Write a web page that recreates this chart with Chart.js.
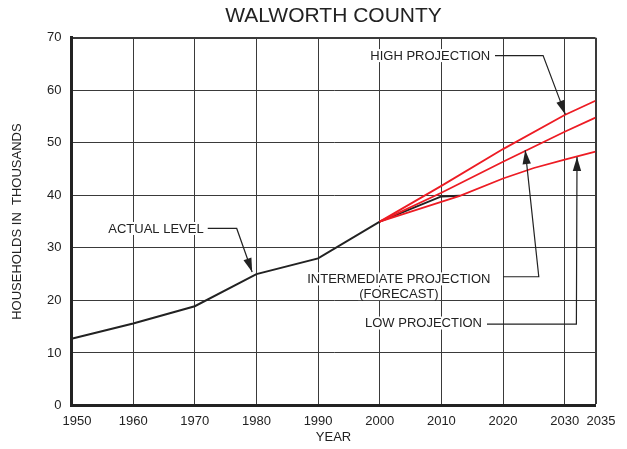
<!DOCTYPE html>
<html><head><meta charset="utf-8">
<script src="https://cdn.jsdelivr.net/npm/chart.js@4.4.1/dist/chart.umd.min.js"></script>
<style>html,body{margin:0;padding:0;background:#fff;}#wrap{width:627px;height:449px;}</style>
</head><body><div id="wrap"><canvas id="c" width="627" height="449"></canvas></div>
<script>
const chartTitle = 'WALWORTH COUNTY';
const xAxisTitle = 'YEAR';
const yAxisTitle = 'HOUSEHOLDS IN  THOUSANDS';
const xTicks = [1950, 1960, 1970, 1980, 1990, 2000, 2010, 2020, 2030, 2035];
const yTicks = [0, 10, 20, 30, 40, 50, 60, 70];

const actualYears  = [1950, 1960, 1970, 1980, 1990, 2000, 2010, 2013];
const actualValues = [12.7, 15.6, 18.9, 25.0, 28.0, 35.0, 39.8, 39.9];

const highYears  = [2000, 2010, 2020, 2030, 2035];
const highValues = [35.0, 41.8, 48.8, 55.3, 58.0];

const interYears  = [2000, 2010, 2020, 2030, 2035];
const interValues = [35.0, 40.5, 46.4, 52.1, 54.8];

const lowYears  = [2000, 2013, 2020, 2025, 2030, 2035];
const lowValues = [35.0, 39.9, 43.2, 45.2, 46.8, 48.3];

// annotation callouts, anchored in data units
const callouts = [
  { lines: [['HIGH PROJECTION', 2008.2, 66.5]],
    leader: [[2018.7, 66.6], [2026.5, 66.6], [2030.1, 55.4]] },
  { lines: [['ACTUAL LEVEL', 1963.7, 33.6]],
    leader: [[1972.1, 33.7], [1976.8, 33.7], [1979.3, 25.4]] },
  { lines: [['INTERMEDIATE PROJECTION', 2003.1, 24.0], ['(FORECAST)', 2003.1, 21.2]],
    leader: [[2020.0, 24.5], [2025.8, 24.5], [2023.6, 48.6]] },
  { lines: [['LOW PROJECTION', 2007.1, 15.6]],
    leader: [[2017.4, 15.5], [2031.9, 15.5], [2032.0, 47.3]] }
];

const pts = (xs, ys) => xs.map((x, i) => ({ x: x, y: ys[i] }));
const FONT = '"Liberation Sans", Arial, Helvetica, sans-serif';
const INK = '#222222';
const RED = '#ed1c24';

const calloutPlugin = {
  id: 'callouts',
  beforeDatasetsDraw(chart) {
    const ctx = chart.ctx, xs = chart.scales.x, ys = chart.scales.y;
    ctx.save();
    ctx.font = '13px ' + FONT;
    ctx.fillStyle = '#ffffff';
    callouts.forEach(c => c.lines.forEach(([t, x, y]) => {
      const w = ctx.measureText(t).width;
      const px = xs.getPixelForValue(x), py = ys.getPixelForValue(y);
      ctx.fillRect(px - w / 2 - 1, py - 7, w + 2, 13);
    }));
    ctx.restore();
  },
  afterDatasetsDraw(chart) {
    const ctx = chart.ctx, xs = chart.scales.x, ys = chart.scales.y;
    ctx.save();
    ctx.font = '13px ' + FONT;
    ctx.fillStyle = INK;
    ctx.strokeStyle = INK;
    ctx.textAlign = 'center';
    ctx.textBaseline = 'middle';
    callouts.forEach(c => {
      c.lines.forEach(([t, x, y]) => {
        ctx.fillText(t, xs.getPixelForValue(x), ys.getPixelForValue(y));
      });
      const p = c.leader.map(([x, y]) => [xs.getPixelForValue(x), ys.getPixelForValue(y)]);
      ctx.lineWidth = 1.2;
      ctx.beginPath();
      ctx.moveTo(p[0][0], p[0][1]);
      for (let i = 1; i < p.length; i++) ctx.lineTo(p[i][0], p[i][1]);
      ctx.stroke();
      const a = p[p.length - 2], b = p[p.length - 1];
      const ang = Math.atan2(b[1] - a[1], b[0] - a[0]);
      const L = 14, W = 4.2;
      ctx.beginPath();
      ctx.moveTo(b[0], b[1]);
      ctx.lineTo(b[0] - L * Math.cos(ang) + W * Math.sin(ang), b[1] - L * Math.sin(ang) - W * Math.cos(ang));
      ctx.lineTo(b[0] - L * Math.cos(ang) - W * Math.sin(ang), b[1] - L * Math.sin(ang) + W * Math.cos(ang));
      ctx.closePath();
      ctx.fill();
    });
    // chart title, centred over the plot area
    const ca = chart.chartArea;
    ctx.font = '21px ' + FONT;
    ctx.fillText(chartTitle, (ca.left + ca.right) / 2, 16.5);
    ctx.restore();
  }
};

new Chart(document.getElementById('c'), {
  type: 'line',
  data: {
    datasets: [
      { label: 'High projection', data: pts(highYears, highValues), borderColor: RED, borderWidth: 1.8 },
      { label: 'Intermediate projection', data: pts(interYears, interValues), borderColor: RED, borderWidth: 1.8 },
      { label: 'Low projection', data: pts(lowYears, lowValues), borderColor: RED, borderWidth: 1.8 },
      { label: 'Actual level', data: pts(actualYears, actualValues), borderColor: INK, borderWidth: 2 }
    ]
  },
  options: {
    responsive: false,
    animation: false,
    devicePixelRatio: 1,
    elements: { point: { radius: 0 }, line: { tension: 0, fill: false } },
    layout: { padding: { left: 0, right: 31.5, top: 37.7, bottom: 0 } },
    plugins: {
      legend: { display: false },
      tooltip: { enabled: false },
      title: { display: false }
    },
    scales: {
      x: {
        type: 'linear', min: 1950, max: 2035,
        afterBuildTicks: s => { s.ticks = xTicks.map(v => ({ value: v })); },
        afterFit: s => { s.height = 43.5; },
        ticks: {
          color: INK, font: { family: FONT, size: 13 }, padding: 8,
          maxRotation: 0, autoSkip: false,
          callback: (v, i) => (i === 0 || i === xTicks.length - 1 ? '   ' : '') + v
        },
        grid: {
          color: '#3a3a3a',
          lineWidth: c => (c.tick && c.tick.value === 2035 ? 2 : 1),
          drawTicks: false
        },
        border: { display: true, color: INK, width: 3 },
        title: { display: true, text: xAxisTitle, color: INK, font: { family: FONT, size: 13 }, padding: { top: 0, bottom: 3.7 } }
      },
      y: {
        min: 0, max: 70,
        afterBuildTicks: s => { s.ticks = yTicks.map(v => ({ value: v })); },
        afterFit: s => { s.width = 71.5; },
        ticks: { color: INK, font: { family: FONT, size: 13 }, padding: 10 },
        grid: {
          color: '#3a3a3a',
          lineWidth: c => (c.tick && c.tick.value === 70 ? 2 : 1),
          drawTicks: false
        },
        border: { display: true, color: INK, width: 3 },
        title: { display: true, text: yAxisTitle, color: INK, font: { family: FONT, size: 13 }, padding: { top: 10, bottom: 0 } }
      }
    }
  },
  plugins: [calloutPlugin]
});
</script></body></html>
